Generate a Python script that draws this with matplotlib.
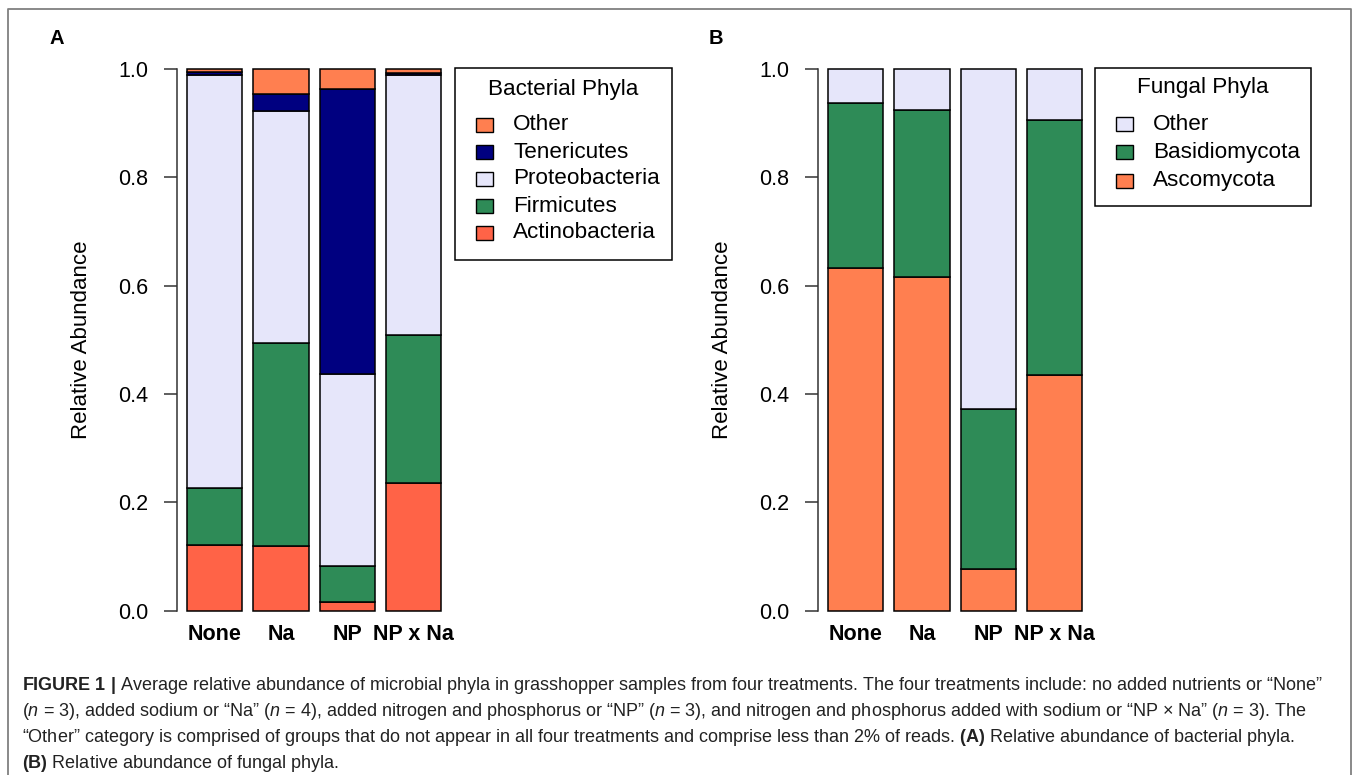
import numpy as np
import matplotlib
matplotlib.use("Agg")
import matplotlib.pyplot as plt
from matplotlib.patches import Rectangle
from matplotlib.lines import Line2D
from matplotlib.transforms import Affine2D
from matplotlib import font_manager

W, H, DPI = 1357, 775, 100

treatments = ["None", "Na", "NP", "NP x Na"]

# bacterial phyla, bottom -> top of each stack
bact_phyla = ["Actinobacteria", "Firmicutes", "Proteobacteria", "Tenericutes", "Other"]
actinobacteria = [0.121, 0.119, 0.016, 0.235]
firmicutes = [0.106, 0.375, 0.067, 0.274]
proteobacteria = [0.761, 0.429, 0.353, 0.479]
tenericutes = [0.007, 0.031, 0.527, 0.005]
bact_other = [0.005, 0.046, 0.037, 0.007]
bact_colors = ["#FF6347", "#2E8B57", "#E6E6FA", "#000080", "#FF7F50"]

# fungal phyla, bottom -> top
fungal_phyla = ["Ascomycota", "Basidiomycota", "Other"]
ascomycota = [0.633, 0.615, 0.077, 0.434]
basidiomycota = [0.305, 0.310, 0.295, 0.471]
fungal_other = [0.062, 0.075, 0.628, 0.095]
fungal_colors = ["#FF7F50", "#2E8B57", "#E6E6FA"]

yticks = [0.0, 0.2, 0.4, 0.6, 0.8, 1.0]

installed = {f.name for f in font_manager.fontManager.ttflist}
CHART_FONT = "Liberation Sans" if "Liberation Sans" in installed else "DejaVu Sans"
CAP_FONT = "Liberation Sans Narrow" if "Liberation Sans Narrow" in installed else CHART_FONT

plt.rcParams["font.family"] = [CHART_FONT, "DejaVu Sans"]
plt.rcParams["mathtext.fontset"] = "custom"
plt.rcParams["mathtext.rm"] = CAP_FONT
plt.rcParams["mathtext.it"] = CAP_FONT + ":italic"
plt.rcParams["mathtext.bf"] = CAP_FONT + ":bold"

fig = plt.figure(figsize=(W / DPI, H / DPI), dpi=DPI)
# pixel coordinates, origin at top-left of the image
PX = Affine2D().scale(1 / W, -1 / H).translate(0, 1) + fig.transFigure


def px_axes(left, top, right, bottom):
    return fig.add_axes([left / W, 1 - bottom / H, (right - left) / W, (bottom - top) / H])


def draw_legend(names, colors, title, box, title_y, row0, pitch):
    x0, y0, x1, y1 = box
    fig.add_artist(Rectangle((x0, y0), x1 - x0, y1 - y0, transform=PX,
                             facecolor="white", edgecolor="black", linewidth=1.1))
    fig.text((x0 + x1) / 2, title_y, title, transform=PX, fontsize=16.2,
             ha="center", va="center")
    for i, (n, c) in enumerate(zip(names[::-1], colors[::-1])):
        yc = row0 + pitch * i
        fig.add_artist(Rectangle((x0 + 21, yc - 7), 16.5, 14, transform=PX,
                                 facecolor=c, edgecolor="black", linewidth=1.0))
        fig.text(x0 + 58, yc, n, transform=PX, fontsize=16.2, ha="left", va="center")


def stacked_panel(ax, series, colors):
    xpos = 0.7 + 1.2 * np.arange(len(treatments))
    base = np.zeros(len(treatments))
    for vals, c in zip(series, colors):
        ax.bar(xpos, vals, width=1.0, bottom=base, color=c,
               edgecolor="black", linewidth=1.1)
        base += np.array(vals)

    ax.set_xlim(0.016, 4.984)
    ax.set_ylim(-0.04, 1.04)
    for s in ["top", "right", "bottom"]:
        ax.spines[s].set_visible(False)
    ax.spines["left"].set_bounds(0, 1)
    ax.spines["left"].set_linewidth(1.1)
    ax.spines["left"].set_color("#333333")

    ax.set_yticks(yticks)
    ax.set_yticklabels([f"{t:.1f}" for t in yticks])
    ax.tick_params(axis="y", length=9.5, width=1.1, pad=11, labelsize=15.5,
                   color="#333333")
    ax.set_xticks(xpos)
    ax.set_xticklabels(treatments, fontweight="bold")
    ax.tick_params(axis="x", length=0, pad=-6, labelsize=15.5)

    ax.set_ylabel("Relative Abundance", fontsize=16)
    ax.yaxis.set_label_coords(-0.31, 0.5)


axA = px_axes(177, 47.3, 451.2, 632.2)
stacked_panel(axA, [actinobacteria, firmicutes, proteobacteria, tenericutes, bact_other],
              bact_colors)
draw_legend(bact_phyla, bact_colors, "Bacterial Phyla", (455, 68, 671.5, 260), 89, 125, 27)

axB = px_axes(818, 47.3, 1092.2, 632.2)
stacked_panel(axB, [ascomycota, basidiomycota, fungal_other], fungal_colors)
draw_legend(fungal_phyla, fungal_colors, "Fungal Phyla", (1095, 68, 1311, 206), 88, 124, 28.3)

fig.text(57, 39, "A", transform=PX, fontsize=14.5, fontweight="bold", ha="center", va="center")
fig.text(716, 39, "B", transform=PX, fontsize=14.5, fontweight="bold", ha="center", va="center")

# outer frame around the figure
fig.add_artist(Line2D([8, 8, 1351, 1351], [H, 9, 9, H], transform=PX,
                      color="#808080", linewidth=1.3))

caption = [
    r"$\mathbf{FIGURE\ 1\ |}$ Average relative abundance of microbial phyla in grasshopper samples from four treatments. "
    r"The four treatments include: no added nutrients or “None”",
    r"($\mathit{n}$ = 3), added sodium or “Na” ($\mathit{n}$ = 4), added nitrogen and phosphorus or “NP” ($\mathit{n}$ = 3), "
    r"and nitrogen and phosphorus added with sodium or “NP × Na” ($\mathit{n}$ = 3). The",
    r"“Other” category is comprised of groups that do not appear in all four treatments and comprise less than 2% of reads. "
    r"$\mathbf{(A)}$ Relative abundance of bacterial phyla.",
    r"$\mathbf{(B)}$ Relative abundance of fungal phyla.",
]
for i, line in enumerate(caption):
    fig.text(22, 686 + 26 * i, line, transform=PX, fontsize=13.0, family=CAP_FONT,
             color="#222222", ha="left", va="center")

fig.savefig("out.png", dpi=DPI)
